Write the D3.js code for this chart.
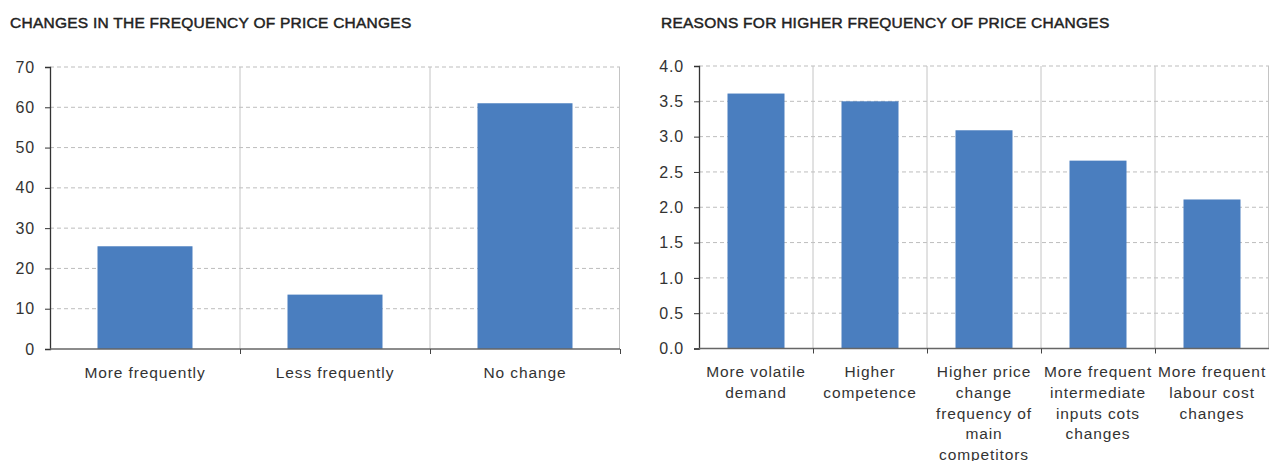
<!DOCTYPE html>
<html><head><meta charset="utf-8">
<script src="https://cdn.jsdelivr.net/npm/d3@7"></script>
<style>
body{margin:0;background:#fff;}
text{font-family:"Liberation Sans",Arial,Helvetica,sans-serif;}
</style></head>
<body><svg id="c" width="1269" height="461"></svg>
<script>
const leftTitle = "CHANGES IN THE FREQUENCY OF PRICE CHANGES";
const leftCategories = [["More frequently"],["Less frequently"],["No change"]];
const leftValues = [25.5, 13.5, 61];
const leftTicks = [0,10,20,30,40,50,60,70];

const rightTitle = "REASONS FOR HIGHER FREQUENCY OF PRICE CHANGES";
const rightCategories = [
  ["More volatile","demand"],
  ["Higher","competence"],
  ["Higher price","change","frequency of","main","competitors"],
  ["More frequent","intermediate","inputs cots","changes"],
  ["More frequent","labour cost","changes"]
];
const rightValues = [3.61, 3.5, 3.09, 2.66, 2.11];
const rightTicks = [0,0.5,1,1.5,2,2.5,3,3.5,4];

const svg = d3.select("#c");

function panel(o){
  const g = svg.append("g");
  g.append("text").attr("x",o.titleX).attr("y",27.5).text(o.title)
    .attr("font-size",15.5).attr("fill","#222").attr("stroke","#222").attr("stroke-width",0.45)
    .attr("letter-spacing","0.25px");
  const x = d3.scaleBand().domain(d3.range(o.cats.length)).range([o.x0,o.x1]).paddingInner(0.5).paddingOuter(0.25);
  const xb = d3.scaleBand().domain(d3.range(o.cats.length)).range([o.x0,o.x1]).padding(0);
  const y = d3.scaleLinear().domain([0,o.max]).range([o.y0,o.y1]);
  // gridlines
  g.append("g").selectAll("line").data(o.ticks.filter(t=>t>0)).join("line")
    .attr("x1",o.x0).attr("x2",o.x1).attr("y1",d=>y(d)).attr("y2",d=>y(d))
    .attr("stroke","#bdbdbd").attr("stroke-width",1).attr("stroke-dasharray","4,3");
  // vertical dividers
  g.append("g").selectAll("line").data(d3.range(1,o.cats.length+1)).join("line")
    .attr("x1",d=>d===o.cats.length?o.x1-0.5:xb(d)).attr("x2",d=>d===o.cats.length?o.x1-0.5:xb(d))
    .attr("y1",y(o.max)).attr("y2",y(0))
    .attr("stroke","#c4c4c4").attr("stroke-width",1);
  // bars
  g.append("g").selectAll("rect").data(o.vals).join("rect")
    .attr("x",(d,i)=>x(i)).attr("width",x.bandwidth())
    .attr("y",d=>y(d)).attr("height",d=>y(0)-y(d))
    .attr("fill","#4a7ebf");
  // y axis
  const ya = d3.axisLeft(y).tickValues(o.ticks).tickFormat(o.fmt).tickSize(5).tickPadding(10);
  const yg = g.append("g").attr("transform",`translate(${o.x0},0)`).call(ya);
  yg.select(".domain").attr("stroke","#333").attr("stroke-width",1.3);
  yg.selectAll(".tick line").attr("stroke","#333");
  yg.selectAll("text").attr("font-size",16).attr("fill","#333").attr("letter-spacing","0.8px")
    .attr("font-family","Liberation Sans,Arial,sans-serif");
  // x axis
  const xa = d3.axisBottom(d3.scaleLinear().domain([0,o.cats.length]).range([o.x0,o.x1]))
    .tickValues(d3.range(1,o.cats.length+1)).tickSize(5).tickFormat("");
  const xg = g.append("g").attr("transform",`translate(0,${y(0)})`).call(xa);
  xg.select(".domain").attr("stroke","#666").attr("stroke-width",1.5).attr("d",`M${o.x0},0H${o.x1}`);
  xg.selectAll(".tick line").attr("stroke","#444");
  // category labels
  const lab = g.append("g").selectAll("text").data(o.cats).join("text")
    .attr("x",(d,i)=>xb(i)+xb.bandwidth()/2).attr("y",y(0)+28.8)
    .attr("text-anchor","middle").attr("font-size",15.5).attr("fill","#333").attr("letter-spacing","0.9px");
  lab.selectAll("tspan").data(d=>d).join("tspan")
    .attr("x",function(){return this.parentNode.getAttribute("x");})
    .attr("dy",(d,i)=>i===0?0:20.6).text(d=>d);
}

panel({title:leftTitle,titleX:10,cats:leftCategories,vals:leftValues,ticks:leftTicks,max:70,
  x0:50,x1:620,y0:349,y1:67,fmt:d3.format("d")});
panel({title:rightTitle,titleX:661,cats:rightCategories,vals:rightValues,ticks:rightTicks,max:4,
  x0:699,x1:1269,y0:348.5,y1:66,fmt:d3.format(".1f")});
</script></body></html>
